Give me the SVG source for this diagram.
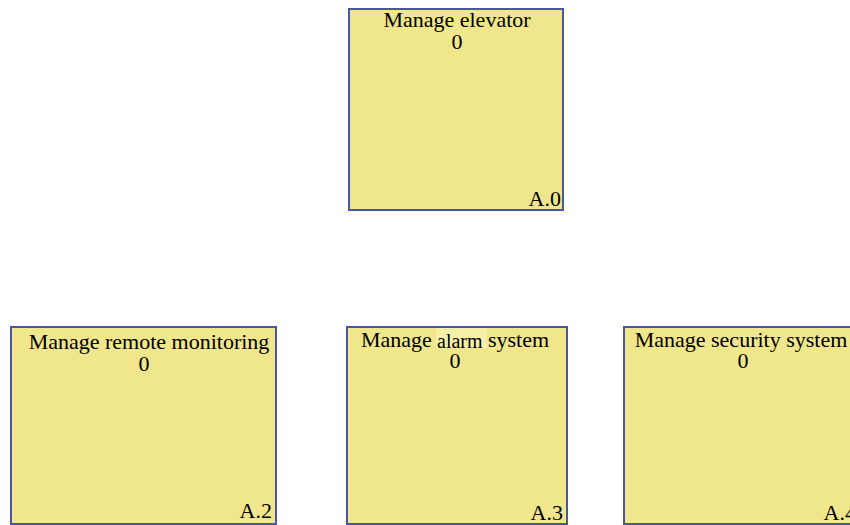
<svg xmlns="http://www.w3.org/2000/svg" width="850" height="525" viewBox="0 0 850 525">
<style>
.box{fill:#F0E68C;stroke:#4a55a5;stroke-width:2}
.t{font-family:"Liberation Serif","Times New Roman",serif;font-size:22px;fill:#000}
.m{text-anchor:middle}
.e{text-anchor:end}
</style>
<rect width="850" height="525" fill="#ffffff"/>
<g id="connectors"></g>
<g id="A0">
<rect class="box" x="349" y="9" width="214" height="201"/>
<text class="t m" x="457" y="27">Manage elevator</text>
<text class="t m" x="457" y="49">0</text>
<text class="t e" x="561" y="206">A.0</text>
</g>
<g id="A2">
<rect class="box" x="11" y="327" width="265" height="197"/>
<text class="t m" x="149" y="349">Manage remote monitoring</text>
<text class="t m" x="144" y="371">0</text>
<text class="t e" x="272" y="518">A.2</text>
</g>
<g id="A3">
<rect class="box" x="347" y="327" width="220" height="197"/>
<rect x="436" y="328" width="51" height="20" fill="#F6F0A8"/>
<text class="t" x="361" y="347">Manage</text>
<text class="t" x="437" y="348" style="font-size:20px">alarm</text>
<text class="t" x="488" y="347">system</text>
<text class="t m" x="455" y="368">0</text>
<text class="t e" x="563" y="520">A.3</text>
</g>
<g id="A4">
<rect class="box" x="624" y="327" width="236" height="197"/>
<text class="t m" x="741" y="347">Manage security system</text>
<text class="t m" x="743" y="368">0</text>
<text class="t e" x="856" y="520">A.4</text>
</g>
</svg>
